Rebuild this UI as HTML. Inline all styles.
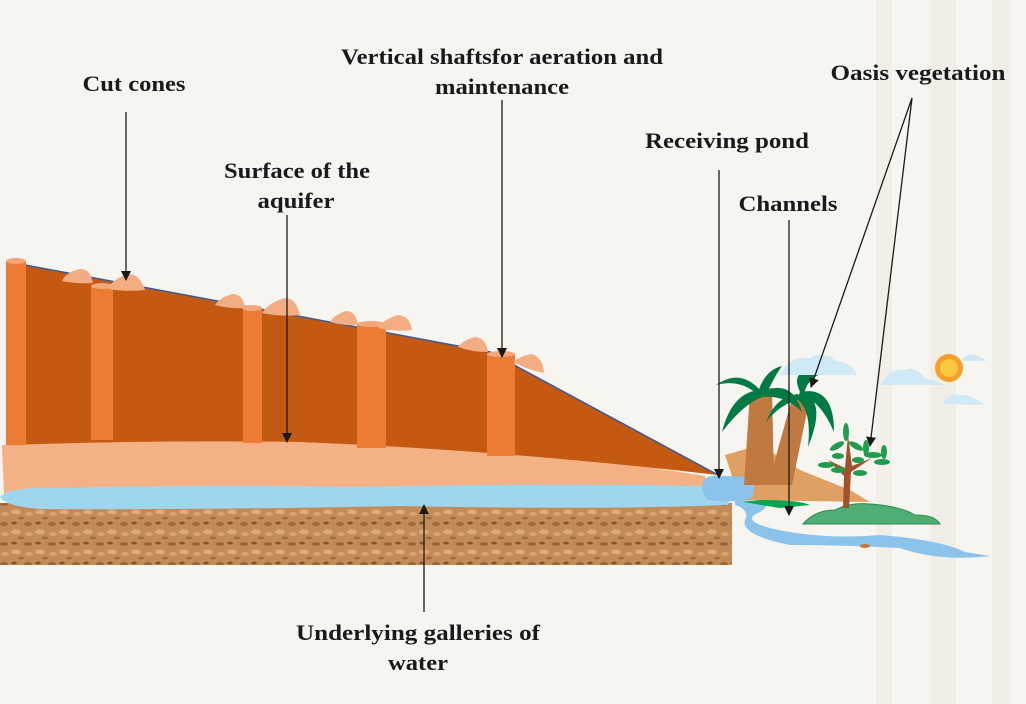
<!DOCTYPE html>
<html><head><meta charset="utf-8"><style>
html,body{margin:0;padding:0;background:#f6f5f0;}
svg{display:block}
text{font-family:"Liberation Serif",serif;font-weight:bold;font-size:22px;fill:#1a1a1a;text-anchor:middle}
</style></head><body>
<svg width="1026" height="704" viewBox="0 0 1026 704" xmlns="http://www.w3.org/2000/svg">
<defs>
<marker id="b" markerWidth="10" markerHeight="10" refX="9" refY="5" orient="auto" markerUnits="userSpaceOnUse" viewBox="0 0 10 10">
<path d="M0,0 L10,5 L0,10 z" fill="#1a1a1a"/>
</marker>
<pattern id="soil" width="24" height="20" patternUnits="userSpaceOnUse">
<rect width="24" height="20" fill="#c28c5a"/>
<ellipse cx="4" cy="4" rx="4" ry="2" fill="#9e6738"/>
<ellipse cx="16" cy="12" rx="5" ry="2.5" fill="#dcaa78"/>
<ellipse cx="14" cy="3" rx="3" ry="1.5" fill="#8a5628"/>
<ellipse cx="5" cy="14" rx="4" ry="2" fill="#d8a26c"/>
<ellipse cx="21" cy="18" rx="3" ry="1.5" fill="#a36c3b"/>
</pattern>
</defs>
<!-- faint bamboo background -->
<g fill="#efebe2" opacity="0.6">
<rect x="930" y="0" width="26" height="704"/>
<rect x="876" y="0" width="16" height="704"/>
<rect x="992" y="0" width="18" height="704"/>
</g>
<!-- soil -->
<rect x="0" y="503" width="732" height="62" fill="url(#soil)"/>
<!-- sand layer -->
<path d="M2,445 Q150,438 350,442 Q550,450 705,476 L708,492 L4,495 Z" fill="#f3b185"/>
<!-- body -->
<path d="M6,262 L25,265 L490,352 L718,475 Q500,450 300,442 Q150,440 6,445 Z" fill="#c45a12"/>
<path d="M25,265 L490,352 L718,475" fill="none" stroke="#3a5a9a" stroke-width="1.5"/>
<!-- shafts -->
<g fill="#ec7c33">
<rect x="6" y="261" width="20" height="184"/>
<rect x="91" y="286" width="22" height="154"/>
<rect x="243" y="308" width="19" height="135"/>
<rect x="357" y="324" width="29" height="124"/>
<rect x="487" y="354" width="28" height="102"/>
</g>
<g fill="#f2a87c">
<ellipse cx="16" cy="261" rx="10" ry="3"/>
<ellipse cx="102" cy="286" rx="11" ry="3"/>
<ellipse cx="252" cy="308" rx="10" ry="3"/>
<ellipse cx="371" cy="324" rx="14" ry="3"/>
<ellipse cx="501" cy="354" rx="14" ry="3"/>
</g>
<!-- cones -->
<g fill="#f2ae82">
<path d="M62,281 Q66,272 80,269 Q90,268 93,283 Q78,284 62,281 Z"/>
<path d="M108,289 Q112,279 128,274 Q140,274 145,290 Q125,292 108,289 Z"/>
<path d="M215,305 Q220,297 233,294 Q243,294 245,308 Q230,309 215,305 Z"/>
<path d="M262,313 Q268,303 285,298 Q296,298 300,315 Q280,317 262,313 Z"/>
<path d="M330,322 Q334,315 346,311 Q356,311 358,325 Q343,326 330,322 Z"/>
<path d="M378,328 Q384,319 398,315 Q410,316 412,330 Q395,332 378,328 Z"/>
<path d="M458,347 Q463,340 475,337 Q486,338 488,352 Q472,352 458,347 Z"/>
<path d="M513,362 Q520,356 532,354 Q543,358 544,373 Q528,370 513,362 Z"/>
</g>
<!-- water band -->
<path d="M0,497 Q10,486 60,488 Q200,484 350,487 Q550,483 705,486 L730,498 L728,505 Q600,510 400,506 Q200,510 40,509 Q5,506 0,497 Z" fill="#9fd6ee"/>
<!-- oasis ground -->
<path d="M725,455 L760,445 L800,470 L850,490 L870,502 L740,500 Z" fill="#dfa064"/>
<!-- stream -->
<path d="M735,500 Q780,500 760,512 Q740,520 770,528 Q820,540 880,535 Q940,540 965,552 L990,556 Q940,562 900,548 Q840,545 790,545 Q740,535 745,520 Q750,510 735,505 Z" fill="#8cc3ea"/>
<path d="M743,502 L760,500 Q800,500 810,505 L780,508 Z" fill="#00a651"/>
<!-- pond -->
<path d="M703,482 Q705,474 725,476 L752,477 Q756,490 752,498 Q730,504 708,500 Q700,492 703,482 Z" fill="#8cc3ea"/>
<!-- palms -->
<path d="M750,392 L772,388 L774,485 L744,485 Z" fill="#c07a3f"/>
<path d="M793,395 L810,397 L792,485 L768,485 Z" fill="#c07a3f"/>
<g fill="#007a45">
<path d="M760,390 Q740,368 716,385 Q742,378 760,397 Z"/>
<path d="M760,390 Q732,392 722,432 Q745,402 765,396 Z"/>
<path d="M758,392 Q765,370 782,366 Q772,380 766,396 Z"/>
<path d="M762,392 Q792,378 802,412 Q785,395 764,397 Z"/>
<path d="M800,392 Q788,366 824,372 Q805,380 804,396 Z"/>
<path d="M800,392 Q834,385 834,432 Q820,400 803,397 Z"/>
<path d="M800,392 Q828,398 808,447 Q812,410 797,399 Z"/>
<path d="M798,394 Q776,396 766,422 Q780,404 800,399 Z"/>
</g>
<!-- bush & tree -->
<path d="M803,524 Q815,510 835,510 Q850,502 870,504 Q900,506 915,515 Q935,515 940,524 Z" fill="#4fae73" stroke="#2a8a50"/>
<path d="M843,508 L849,508 L851,472 L872,458 L852,466 L848,435 L845,468 L828,460 L844,476 Z" fill="#a0522d"/>
<g fill="#1f9d4d">
<ellipse cx="846" cy="432" rx="3" ry="9"/><ellipse cx="837" cy="446" rx="8" ry="3" transform="rotate(-30 837 446)"/>
<ellipse cx="856" cy="446" rx="8" ry="3" transform="rotate(30 856 446)"/><ellipse cx="826" cy="465" rx="8" ry="3"/>
<ellipse cx="873" cy="455" rx="9" ry="3"/><ellipse cx="882" cy="462" rx="8" ry="3"/>
<ellipse cx="866" cy="448" rx="3" ry="8"/><ellipse cx="884" cy="452" rx="3" ry="7"/>
<ellipse cx="838" cy="470" rx="7" ry="3"/><ellipse cx="860" cy="473" rx="7" ry="3"/>
<ellipse cx="838" cy="456" rx="6" ry="3"/><ellipse cx="858" cy="460" rx="6" ry="3"/>
</g>
<ellipse cx="865" cy="546" rx="5" ry="2" fill="#c07a3f"/>
<!-- clouds and sun -->
<g fill="#cfe9f6">
<path d="M780,375 Q790,355 810,358 Q820,350 835,360 Q855,365 856,375 Z"/>
<path d="M880,385 Q890,368 905,370 Q915,365 925,378 L945,385 Z"/>
<path d="M942,404 Q950,392 960,395 Q968,393 985,405 Z"/>
<path d="M960,361 Q968,352 975,355 Q980,355 986,361 Z"/>
</g>
<circle cx="949" cy="368" r="14" fill="#f5a02d"/>
<circle cx="949" cy="368" r="9" fill="#fbc93e"/>
<!-- arrows -->
<g stroke="#1a1a1a" stroke-width="1.3" fill="none">
<line x1="126" y1="112" x2="126" y2="280" marker-end="url(#b)"/>
<line x1="502" y1="100" x2="502" y2="357" marker-end="url(#b)"/>
<line x1="287" y1="215" x2="287" y2="442" marker-end="url(#b)"/>
<line x1="719" y1="170" x2="719" y2="478" marker-end="url(#b)"/>
<line x1="789" y1="220" x2="789" y2="515" marker-end="url(#b)"/>
<line x1="912" y1="98" x2="811" y2="387" marker-end="url(#b)"/>
<line x1="912" y1="98" x2="870" y2="446" marker-end="url(#b)"/>
<line x1="424" y1="612" x2="424" y2="505" marker-end="url(#b)"/>
</g>
<!-- labels -->
<text x="134" y="91" textLength="103" lengthAdjust="spacingAndGlyphs">Cut cones</text>
<text x="502" y="64" textLength="322" lengthAdjust="spacingAndGlyphs">Vertical shaftsfor aeration and</text>
<text x="502" y="94" textLength="134" lengthAdjust="spacingAndGlyphs">maintenance</text>
<text x="297" y="178" textLength="146" lengthAdjust="spacingAndGlyphs">Surface of the</text>
<text x="296" y="208" textLength="77" lengthAdjust="spacingAndGlyphs">aquifer</text>
<text x="727" y="148" textLength="164" lengthAdjust="spacingAndGlyphs">Receiving pond</text>
<text x="788" y="211" textLength="99" lengthAdjust="spacingAndGlyphs">Channels</text>
<text x="918" y="80" textLength="175" lengthAdjust="spacingAndGlyphs">Oasis vegetation</text>
<text x="418" y="640" textLength="244" lengthAdjust="spacingAndGlyphs">Underlying galleries of</text>
<text x="418" y="670" textLength="60" lengthAdjust="spacingAndGlyphs">water</text>
</svg>
</body></html>
